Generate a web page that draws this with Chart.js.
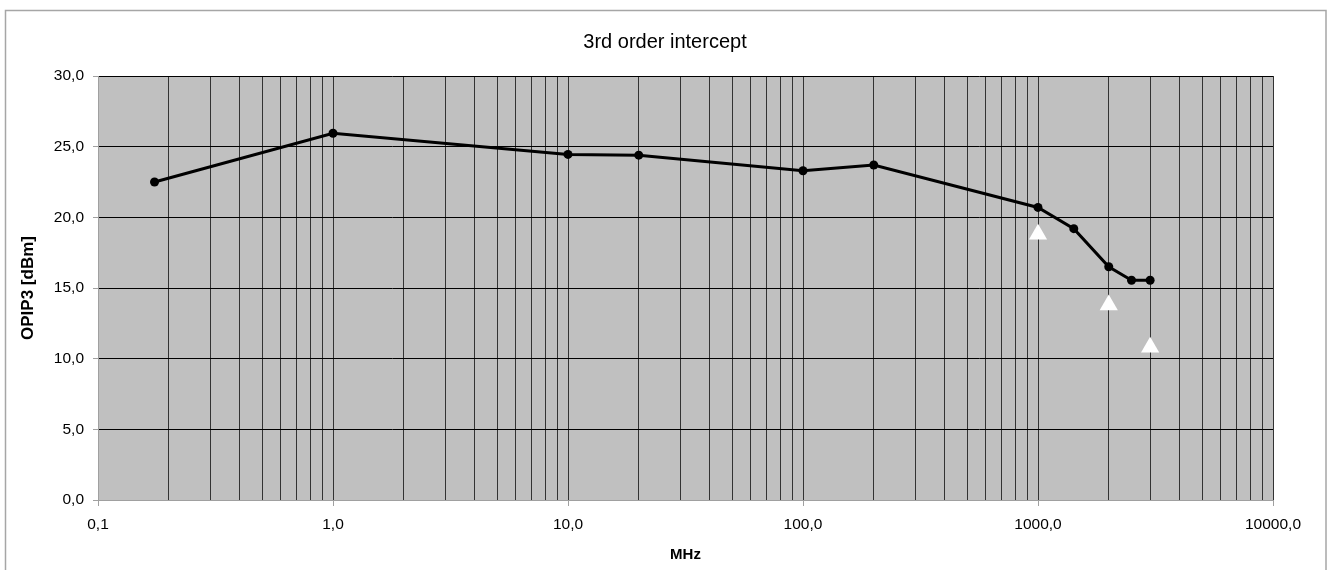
<!DOCTYPE html>
<html>
<head>
<meta charset="utf-8">
<script src="https://cdn.jsdelivr.net/npm/chart.js@4"></script>
<style>
html,body{margin:0;padding:0;background:#fff;}
canvas{display:block;}
</style>
</head>
<body>
<canvas id="c" width="1330" height="570"></canvas>
<script>
// Measured series (MHz vs OPIP3 dBm)
const freqMHz = [0.174, 1, 10, 20, 100, 200, 1000, 1420, 2000, 2500, 3000];
const opip3 = [22.5, 25.95, 24.45, 24.4, 23.3, 23.7, 20.7, 19.2, 16.5, 15.55, 15.55];
// Spec markers (white triangles)
const specFreqMHz = [1000, 2000, 3000];
const specOpip3 = [18.8, 13.8, 10.8];
// Axis ranges / ticks
const xMin = 0.1, xMax = 10000;
const yMin = 0, yMax = 30, yStep = 5;
const chartTitle = '3rd order intercept';
const xTitle = 'MHz';
const yTitle = 'OPIP3 [dBm]';

const fmt = v => v.toFixed(1).replace('.', ',');
const isDecade = v => { const l = Math.log10(v); return Math.abs(l - Math.round(l)) < 1e-9; };

const bgPlugin = {
  id: 'bg',
  beforeDraw(chart) {
    const {ctx, chartArea: a} = chart;
    ctx.save();
    ctx.fillStyle = '#ffffff';
    ctx.fillRect(0, 0, chart.width, chart.height);
    ctx.strokeStyle = '#a6a6a6';
    ctx.lineWidth = 1.5;
    ctx.strokeRect(5.5, 10.5, 1320.5, 600);
    ctx.fillStyle = '#c0c0c0';
    ctx.fillRect(a.left, a.top, a.right - a.left, a.bottom - a.top);
    ctx.restore();
  }
};

new Chart(document.getElementById('c'), {
  type: 'line',
  data: {
    datasets: [
      {
        label: 'OPIP3',
        data: freqMHz.map((f, i) => ({x: f, y: opip3[i]})),
        borderColor: '#000',
        backgroundColor: '#000',
        borderWidth: 3,
        pointRadius: 4.5,
        pointBackgroundColor: '#000',
        pointBorderWidth: 0,
        tension: 0
      },
      {
        label: 'spec',
        data: specFreqMHz.map((f, i) => ({x: f, y: specOpip3[i]})),
        showLine: false,
        pointStyle: 'triangle',
        pointRadius: 10.5,
        pointBackgroundColor: '#fff',
        pointBorderColor: '#fff',
        pointBorderWidth: 0
      }
    ]
  },
  options: {
    responsive: false,
    animation: false,
    layout: {padding: {left: 0, right: 0, top: 0, bottom: 0}},
    plugins: {
      legend: {display: false},
      tooltip: {enabled: false},
      title: {
        display: true,
        text: chartTitle,
        color: '#000',
        font: {family: 'Liberation Sans', size: 20, weight: 'normal'},
        padding: {top: 30, bottom: 22}
      }
    },
    scales: {
      x: {
        type: 'logarithmic',
        min: xMin,
        max: xMax,
        afterBuildTicks(scale) {
          const t = [];
          for (let k = -1; k <= 3; k++) {
            for (let m = 1; m <= 9; m++) {
              t.push({value: Number((m * Math.pow(10, k)).toPrecision(6))});
            }
          }
          t.push({value: xMax});
          scale.ticks = t;
        },
        afterFit(scale) { scale.height = 70; },
        ticks: {
          autoSkip: false,
          maxRotation: 0,
          minRotation: 0,
          padding: 9,
          color: '#000',
          font: {family: 'Liberation Sans', size: 15.5},
          callback: (v) => isDecade(v) ? fmt(v) : ''
        },
        grid: {
          color: (c) => (c.tick && c.tick.value === xMin) ? 'rgba(0,0,0,0)' : '#333333',
          lineWidth: 1,
          tickLength: 6,
          tickColor: (c) => (c.tick && isDecade(c.tick.value)) ? '#a0a0a0' : 'rgba(0,0,0,0)'
        },
        border: {display: true, color: '#a0a0a0', width: 1},
        title: {
          display: true,
          text: xTitle,
          color: '#000',
          font: {family: 'Liberation Sans', size: 15, weight: 'bold'},
          padding: {top: 0, bottom: 6}
        }
      },
      y: {
        min: yMin,
        max: yMax,
        afterFit(scale) { scale.width = 98; },
        ticks: {
          stepSize: yStep,
          padding: 9,
          color: '#000',
          font: {family: 'Liberation Sans', size: 15.5},
          callback: (v) => fmt(v)
        },
        grid: {
          color: (c) => (c.tick && c.tick.value === yMin) ? 'rgba(0,0,0,0)' : '#000000',
          lineWidth: 1,
          tickLength: 5,
          tickColor: '#a0a0a0'
        },
        border: {display: true, color: '#a0a0a0', width: 1},
        title: {
          display: true,
          text: yTitle,
          color: '#000',
          font: {family: 'Liberation Sans', size: 17, weight: 'bold'},
          padding: {top: 18, bottom: 0}
        }
      },
      yRight: {
        position: 'right',
        min: yMin,
        max: yMax,
        afterFit(scale) { scale.width = 57; },
        ticks: {display: false},
        grid: {display: false, drawOnChartArea: false},
        border: {display: false}
      }
    }
  },
  plugins: [bgPlugin]
});
</script>
</body>
</html>
